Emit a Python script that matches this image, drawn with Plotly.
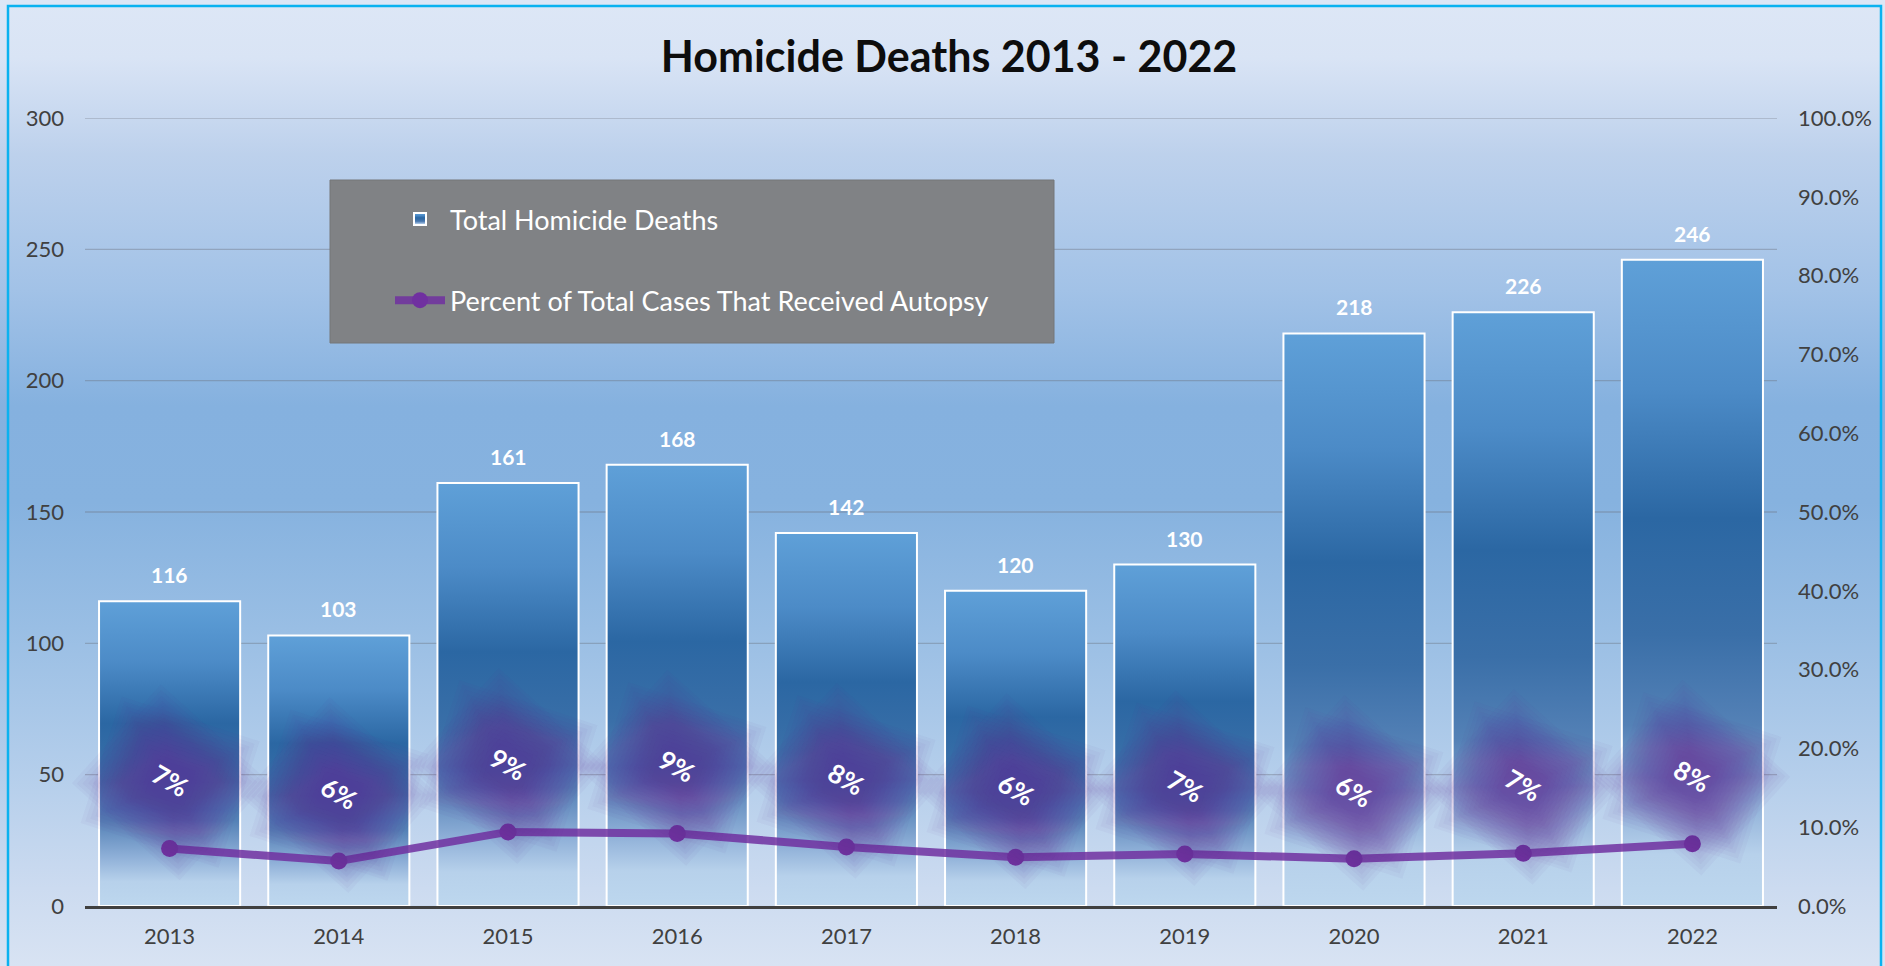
import base64
import plotly.graph_objects as go

# ---------------- data ----------------
years = [2013, 2014, 2015, 2016, 2017, 2018, 2019, 2020, 2021, 2022]
total_deaths = [116, 103, 161, 168, 142, 120, 130, 218, 226, 246]
autopsy_pct = [0.073, 0.057, 0.094, 0.092, 0.075, 0.062, 0.066, 0.060, 0.067, 0.079]
left_ticks = [0, 50, 100, 150, 200, 250, 300]
right_ticks = [0.0, 0.1, 0.2, 0.3, 0.4, 0.5, 0.6, 0.7, 0.8, 0.9, 1.0]
bar_name = "Total Homicide Deaths"
line_name = "Percent of Total Cases That Received Autopsy"
title_text = "Homicide Deaths 2013 - 2022"

# ---------------- layout constants ----------------
W, H = 1885, 966
ML, MR, MT, MB = 85, 108, 118, 60
PW, PH = W - ML - MR, H - MT - MB
XR = [2012.5, 2022.5]
YR = [0, 300]
BAR_W = 0.834
FONT = "Lato"
TICK_COLOR = "#404040"
PURPLE = "#7030A0"


def px_to_paper_x(px):
    return (px - ML) / PW


def px_to_paper_y(py):
    return 1 - (py - MT) / PH


def px_to_x(px):
    return XR[0] + (px - ML) / PW * (XR[1] - XR[0])


def px_to_y(py):
    return YR[0] + (MT + PH - py) / PH * (YR[1] - YR[0])


def svg_uri(svg):
    return "data:image/svg+xml;base64," + base64.b64encode(svg.encode()).decode()


def grad_svg(stops, w, h, extra=""):
    st = "".join(f'<stop offset="{o}" stop-color="{c}"/>' for o, c in stops)
    return (f'<svg xmlns="http://www.w3.org/2000/svg" width="{w}" height="{h}" '
            f'viewBox="0 0 {w} {h}" preserveAspectRatio="none"><defs>'
            f'<linearGradient id="g" x1="0" y1="0" x2="0" y2="1">{st}</linearGradient>'
            f'</defs><rect x="0" y="0" width="{w}" height="{h}" fill="url(#g)"/>{extra}</svg>')


bg_stops = [(0, "#DDE7F6"), (0.06, "#D9E4F5"), (0.16, "#BDD1EC"), (0.30, "#A2C2E7"),
            (0.42, "#85B1DF"), (0.52, "#86B2DF"), (0.65, "#99BEE4"), (0.80, "#B4CEEB"),
            (0.92, "#CCDBF0"), (1, "#D8E3F3")]
border = ('<path d="M8,966 V6 H1881 V966" fill="none" stroke="#0AB2F0" stroke-width="2.5"/>')
bg_uri = svg_uri(grad_svg(bg_stops, W, H, border))

bar_stops = [(0, "#5FA0D8"), (0.20, "#4C8BC7"), (0.40, "#2B67A3"), (0.58, "#3A6FA8"),
             (0.72, "#5481B6"), (0.84, "#8FB0D8"), (0.92, "#B7D1EB"), (1, "#BDD7EE")]
bar_uri = svg_uri(grad_svg(bar_stops, 10, 100))

fig = go.Figure()

fig.add_trace(go.Bar(
    x=years, y=total_deaths, name=bar_name, width=BAR_W,
    marker=dict(color="rgba(0,0,0,0)", line=dict(color="white", width=2)),
    legendgroup="a", hoverinfo="x+y",
))
fig.add_trace(go.Scatter(
    x=years, y=autopsy_pct, name=line_name, yaxis="y2", mode="lines+markers",
    line=dict(color="rgba(112,48,160,0.85)", width=8),
    marker=dict(color=PURPLE, size=17),
    legendgroup="b",
))

images = [dict(source=bg_uri, xref="paper", yref="paper",
               x=-ML / PW, y=1 + MT / PH, sizex=W / PW, sizey=H / PH,
               xanchor="left", yanchor="top", sizing="stretch", layer="below")]
for yr, v in zip(years, total_deaths):
    images.append(dict(source=bar_uri, xref="x", yref="y",
                       x=yr - BAR_W / 2, y=v, sizex=BAR_W, sizey=v,
                       xanchor="left", yanchor="top", sizing="stretch", layer="below"))

# legend swatch for the bars
LEG_LEFT, LEG_TOP = 390, 195
SW_CX, SW_CY = LEG_LEFT + 30, LEG_TOP + 24
images.append(dict(source=bar_uri, xref="paper", yref="paper",
                   x=px_to_paper_x(SW_CX - 6), y=px_to_paper_y(SW_CY - 6),
                   sizex=12 / PW, sizey=12 / PH, xanchor="left", yanchor="top",
                   sizing="stretch", layer="above"))

shapes = []
for t in left_ticks[1:]:
    shapes.append(dict(type="line", xref="x", yref="y", x0=XR[0], x1=XR[1], y0=t, y1=t,
                       line=dict(color="rgba(105,110,120,0.38)", width=1.4), layer="below"))
# legend box
shapes.append(dict(type="rect", xref="x", yref="y",
                   x0=px_to_x(330), x1=px_to_x(1054), y0=px_to_y(343), y1=px_to_y(180),
                   fillcolor="#808285", line=dict(color="#747679", width=1), layer="below"))

annotations = []
for yr, v in zip(years, total_deaths):
    annotations.append(dict(x=yr, y=v, xref="x", yref="y", text=str(v), showarrow=False,
                            yanchor="bottom", yshift=12,
                            font=dict(family=FONT, size=21, color="white", weight="bold")))

# soft purple "glow" behind the percentage labels
glow_sizes = list(range(142, 30, -8))
glow_angles = [18, 42]
for yr, p in zip(years, autopsy_pct):
    lab = f"{round(p * 100)}%"
    for w in glow_sizes:
        for ang in glow_angles:
            annotations.append(dict(x=yr, y=p, xref="x", yref="y2", text=lab, showarrow=False,
                                    yshift=66, textangle=ang, width=w, height=int(w * 0.92),
                                    bgcolor="rgba(112,48,160,0.04)",
                                    font=dict(family=FONT, size=26, color="rgba(0,0,0,0)")))
    annotations.append(dict(x=yr, y=p, xref="x", yref="y2", text=lab, showarrow=False,
                            yshift=68, textangle=30,
                            font=dict(family=FONT, size=26, color="white", weight="bold")))

fig.update_layout(
    width=W, height=H,
    margin=dict(l=ML, r=MR, t=MT, b=MB, pad=0),
    paper_bgcolor="#D2DFF2", plot_bgcolor="rgba(0,0,0,0)",
    title=dict(text=title_text, x=949 / W, xref="container", xanchor="center",
               y=1 - 57 / H, yref="container", yanchor="middle",
               font=dict(family=FONT, size=43, color="#0D0D0D", weight="bold")),
    font=dict(family=FONT),
    barmode="overlay",
    showlegend=True,
    legend=dict(x=px_to_paper_x(LEG_LEFT), y=px_to_paper_y(LEG_TOP), xanchor="left", yanchor="top",
                bgcolor="rgba(0,0,0,0)", font=dict(family=FONT, size=27, color="white"),
                itemwidth=50, tracegroupgap=43, traceorder="grouped"),
    xaxis=dict(range=XR, tickvals=years, ticktext=[str(y) for y in years],
               showgrid=False, zeroline=False, showline=True, linecolor=TICK_COLOR, linewidth=3,
               ticks="", ticklabelstandoff=9,
               tickfont=dict(family=FONT, size=22, color=TICK_COLOR)),
    yaxis=dict(range=YR, tickvals=left_ticks, showgrid=False, zeroline=False, showline=False,
               ticks="", ticklabelstandoff=20,
               tickfont=dict(family=FONT, size=22, color=TICK_COLOR)),
    yaxis2=dict(range=[0, 1], tickvals=right_ticks, tickformat=".1%", overlaying="y", side="right",
                showgrid=False, zeroline=False, showline=False, ticks="", ticklabelstandoff=20,
                tickfont=dict(family=FONT, size=22, color=TICK_COLOR)),
    images=images, shapes=shapes, annotations=annotations,
)

fig.write_html("out.html", config={"displayModeBar": False},
               post_script="document.body.style.margin='0';document.body.style.overflow='hidden';")
